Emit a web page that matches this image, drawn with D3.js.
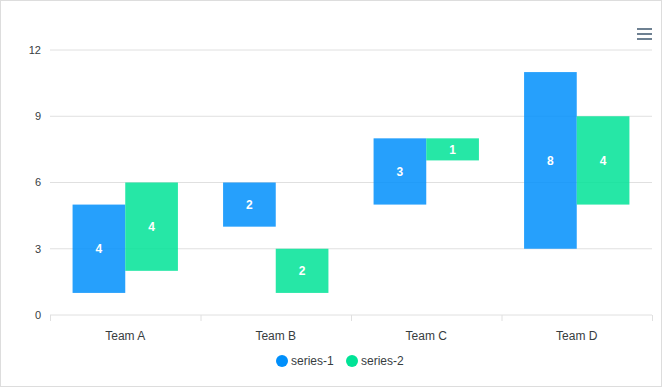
<!DOCTYPE html>
<html>
<head>
<meta charset="utf-8">
<script src="https://d3js.org/d3.v7.min.js"></script>
<style>
    body { margin: 0; background: #fff; }
    #chart { width: 660px; height: 385px; border: 1px solid #ddd; }
    text { font-family: Helvetica, Arial, sans-serif; }
</style>
</head>
<body>
<div id="chart"></div>
<script>
    var categories = ["Team A", "Team B", "Team C", "Team D"];
    var seriesNames = ["series-1", "series-2"];
    var series1 = [[1, 5], [4, 6], [5, 8], [3, 11]];
    var series2 = [[2, 6], [1, 3], [7, 8], [5, 9]];
    var yTicks = [0, 3, 6, 9, 12];
    var colors = ["#008FFB", "#00E396"];

    var width = 660, height = 385,
        margin = {top: 49, right: 9, bottom: 71, left: 49};

    var svg = d3.select("#chart").append("svg")
        .attr("width", width)
        .attr("height", height);

    var g = svg.append("g")
        .attr("transform", "translate(" + margin.left + "," + margin.top + ")");

    var w = width - margin.left - margin.right,
        h = height - margin.top - margin.bottom;

    var x = d3.scaleBand().domain(categories).range([0, w]).paddingInner(0).paddingOuter(0);
    var x1 = d3.scaleBand().domain(seriesNames).range([x.bandwidth() * 0.15, x.bandwidth() * 0.85]);
    var y = d3.scaleLinear().domain([0, 12]).range([h, 0]);

    // grid
    g.selectAll(".grid").data(yTicks.slice(1))
        .enter().append("line")
        .attr("x1", 0).attr("x2", w)
        .attr("y1", function (d) { return y(d); })
        .attr("y2", function (d) { return y(d); })
        .attr("stroke", "#e0e0e0");

    // y labels
    g.selectAll(".ylab").data(yTicks)
        .enter().append("text")
        .attr("x", -9)
        .attr("y", function (d) { return y(d); })
        .attr("dy", "0.35em")
        .attr("text-anchor", "end")
        .attr("font-size", 11)
        .attr("fill", "#373d3f")
        .text(function (d) { return d; });

    // x axis
    g.append("line")
        .attr("x1", 0).attr("x2", w)
        .attr("y1", h).attr("y2", h)
        .attr("stroke", "#e0e0e0");
    var tickPos = categories.map(function (c) { return x(c); }).concat([w]);
    g.selectAll(".xtick").data(tickPos)
        .enter().append("line")
        .attr("x1", function (d) { return d + 0.5; })
        .attr("x2", function (d) { return d + 0.5; })
        .attr("y1", h).attr("y2", h + 6)
        .attr("stroke", "#e0e0e0");
    g.selectAll(".xlab").data(categories)
        .enter().append("text")
        .attr("x", function (d) { return x(d) + x.bandwidth() / 2; })
        .attr("y", h + 25)
        .attr("text-anchor", "middle")
        .attr("font-size", 12)
        .attr("fill", "#373d3f")
        .text(function (d) { return d; });

    // bars
    var allSeries = [series1, series2];
    allSeries.forEach(function (data, si) {
        var grp = g.append("g");
        data.forEach(function (r, i) {
            var bx = x(categories[i]) + x1(seriesNames[si]);
            grp.append("rect")
                .attr("x", bx)
                .attr("y", y(r[1]))
                .attr("width", x1.bandwidth())
                .attr("height", y(r[0]) - y(r[1]))
                .attr("fill", colors[si])
                .attr("fill-opacity", 0.85);
            grp.append("text")
                .attr("x", bx + x1.bandwidth() / 2)
                .attr("y", (y(r[0]) + y(r[1])) / 2)
                .attr("dy", "0.35em")
                .attr("text-anchor", "middle")
                .attr("font-size", 12)
                .attr("font-weight", "bold")
                .attr("fill", "#fff")
                .text(r[1] - r[0]);
        });
    });

    // legend
    var legend = svg.append("g").attr("transform", "translate(0,360)");
    var lx = [275, 345];
    seriesNames.forEach(function (s, i) {
        legend.append("circle")
            .attr("cx", lx[i] + 6).attr("cy", 0).attr("r", 6)
            .attr("fill", colors[i]);
        legend.append("text")
            .attr("x", lx[i] + 15).attr("y", 0).attr("dy", "0.35em")
            .attr("font-size", 12)
            .attr("fill", "#373d3f")
            .text(s);
    });

    // menu icon
    var menu = svg.append("g").attr("transform", "translate(636,27)");
    [0, 5, 10].forEach(function (d) {
        menu.append("rect").attr("x", 0).attr("y", d).attr("width", 15).attr("height", 2)
            .attr("fill", "#6e8192");
    });
</script>
</body>
</html>
